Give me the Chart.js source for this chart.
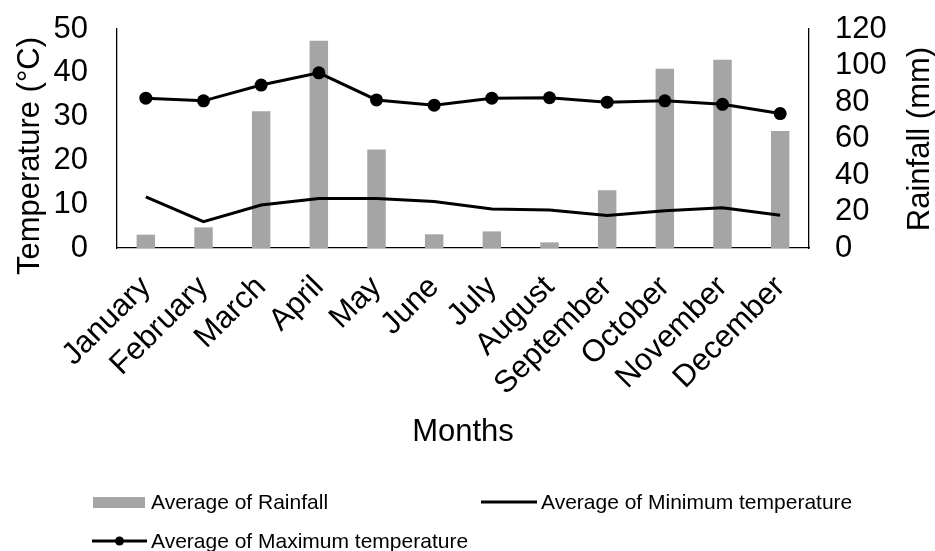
<!DOCTYPE html>
<html>
<head>
<meta charset="utf-8">
<script src="https://cdn.jsdelivr.net/npm/chart.js@4/dist/chart.umd.min.js"></script>
<style>
  html, body { margin: 0; padding: 0; background: #fff; }
  #wrap { width: 935px; height: 551px; position: relative; }
</style>
</head>
<body>
<div id="wrap"><canvas id="chart"></canvas></div>
<script>
// Monthly climate averages
const months = ['January', 'February', 'March', 'April', 'May', 'June',
                'July', 'August', 'September', 'October', 'November', 'December'];
const rainfall = [7.3, 11.3, 75, 113.6, 54, 7.5, 9.1, 3.1, 31.6, 98.2, 103.2, 64.1];
const minTemp  = [11.7, 6.0, 9.8, 11.3, 11.3, 10.6, 8.9, 8.7, 7.4, 8.5, 9.2, 7.5];
const maxTemp  = [34.2, 33.6, 37.2, 40.0, 33.8, 32.6, 34.2, 34.3, 33.3, 33.6, 32.8, 30.7];
const tempTicks = [0, 10, 20, 30, 40, 50];
const rainTicks = [0, 20, 40, 60, 80, 100, 120];

const FONT = '"Liberation Sans", Arial, sans-serif';
const GREY = '#A5A5A5';

// Axis titles on the value axes, both reading bottom-to-top
const sideTitles = {
  id: 'sideTitles',
  afterDraw(chart) {
    const ctx = chart.ctx;
    ctx.save();
    ctx.fillStyle = '#000';
    ctx.font = '31px ' + FONT;
    ctx.textAlign = 'center';
    ctx.textBaseline = 'middle';
    [['Temperature (°C)', 30, 156], ['Rainfall (mm)', 920, 139]].forEach(([t, x, y]) => {
      ctx.save();
      ctx.translate(x, y);
      ctx.rotate(-Math.PI / 2);
      ctx.fillText(t, 0, 0);
      ctx.restore();
    });
    ctx.restore();
  }
};

// Legend laid out in two rows under the axis title
const bottomLegend = {
  id: 'bottomLegend',
  afterDraw(chart) {
    const ctx = chart.ctx;
    const ds = chart.data.datasets;
    ctx.save();
    ctx.font = '21px ' + FONT;
    ctx.textBaseline = 'middle';
    ctx.textAlign = 'left';

    // bar swatch
    ctx.fillStyle = ds[0].backgroundColor;
    ctx.fillRect(93, 497, 52, 11);
    ctx.fillStyle = '#000';
    ctx.fillText(ds[0].label, 151, 503);

    // plain line swatch
    ctx.strokeStyle = '#000';
    ctx.lineWidth = 3;
    ctx.beginPath();
    ctx.moveTo(481, 502);
    ctx.lineTo(537, 502);
    ctx.stroke();
    ctx.fillText(ds[1].label, 541, 503);

    // line with marker
    ctx.beginPath();
    ctx.moveTo(92, 541);
    ctx.lineTo(147, 541);
    ctx.stroke();
    ctx.beginPath();
    ctx.arc(119.5, 541, 4.5, 0, Math.PI * 2);
    ctx.fill();
    ctx.fillText(ds[2].label, 151, 542);
    ctx.restore();
  }
};

// keep the plot area exactly where the fixed axis sizes put it
function noEdgePadding(s) {
  s.paddingTop = 0; s.paddingBottom = 0; s.paddingLeft = 0; s.paddingRight = 0;
}

new Chart(document.getElementById('chart'), {
  data: {
    labels: months,
    datasets: [
      {
        type: 'bar',
        label: 'Average of Rainfall',
        data: rainfall,
        yAxisID: 'y1',
        backgroundColor: GREY,
        barPercentage: 0.32,
        categoryPercentage: 1,
        order: 3
      },
      {
        type: 'line',
        label: 'Average of Minimum temperature',
        data: minTemp,
        yAxisID: 'y',
        borderColor: '#000',
        borderWidth: 3,
        pointRadius: 0,
        tension: 0,
        fill: false,
        order: 2
      },
      {
        type: 'line',
        label: 'Average of Maximum temperature',
        data: maxTemp,
        yAxisID: 'y',
        borderColor: '#000',
        backgroundColor: '#000',
        borderWidth: 3,
        pointRadius: 6.5,
        pointBackgroundColor: '#000',
        pointBorderWidth: 0,
        tension: 0,
        fill: false,
        order: 1
      }
    ]
  },
  options: {
    responsive: true,
    maintainAspectRatio: false,
    animation: false,
    devicePixelRatio: 1,
    layout: { padding: { top: 29, bottom: 75, left: 0, right: 0 } },
    plugins: {
      legend: { display: false },
      tooltip: { enabled: false }
    },
    scales: {
      x: {
        offset: true,
        grid: { display: false, drawTicks: false },
        border: { display: true, color: '#000', width: 1.3 },
        ticks: {
          color: '#000',
          font: { family: FONT, size: 31 },
          maxRotation: 45,
          minRotation: 45,
          autoSkip: false,
          padding: 21
        },
        title: {
          display: true,
          text: 'Months',
          color: '#000',
          font: { family: FONT, size: 31 },
          padding: { top: 0, bottom: 25 }
        },
        afterFit(s) { s.height = 228; noEdgePadding(s); }
      },
      y: {
        position: 'left',
        min: tempTicks[0],
        max: tempTicks[tempTicks.length - 1],
        grid: { display: false, drawTicks: false },
        border: { display: true, color: '#000', width: 1.3 },
        afterBuildTicks(s) { s.ticks = tempTicks.map(v => ({ value: v })); },
        ticks: {
          color: '#000',
          font: { family: FONT, size: 31 },
          autoSkip: false,
          padding: 29
        },
        afterFit(s) { s.width = 117; noEdgePadding(s); }
      },
      y1: {
        position: 'right',
        min: rainTicks[0],
        max: rainTicks[rainTicks.length - 1],
        grid: { display: false, drawTicks: false },
        border: { display: true, color: '#000', width: 1.3 },
        afterBuildTicks(s) { s.ticks = rainTicks.map(v => ({ value: v })); },
        ticks: {
          color: '#000',
          font: { family: FONT, size: 31 },
          autoSkip: false,
          padding: 26
        },
        afterFit(s) { s.width = 126; noEdgePadding(s); }
      }
    }
  },
  plugins: [sideTitles, bottomLegend]
});
</script>
</body>
</html>
